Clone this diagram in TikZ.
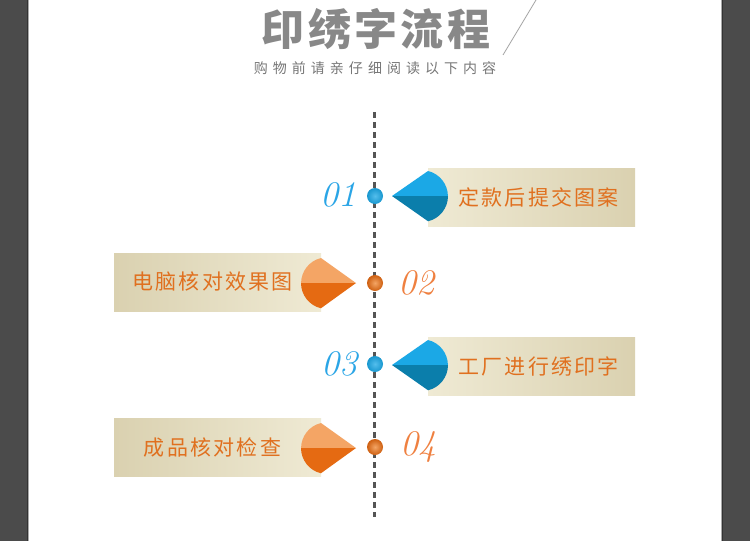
\documentclass[tikz,border=0pt]{standalone}
\usepackage{fontspec}
\newfontfamily\cjktitle[LetterSpace=8]{Noto Sans CJK SC}
\newfontfamily\cjksub[LetterSpace=36]{Noto Sans CJK SC}
\newfontfamily\cjkstep[LetterSpace=11]{Noto Sans CJK SC}

\definecolor{sidegray}{HTML}{4B4B4B}
\definecolor{edgedark}{HTML}{333333}
\definecolor{edgelight}{HTML}{AAAAAA}
\definecolor{titlegray}{HTML}{888888}
\definecolor{subgray}{HTML}{777777}
\definecolor{linegray}{HTML}{555555}
\definecolor{bluelight}{HTML}{1BA8E6}
\definecolor{bluedark}{HTML}{0B7EAB}
\definecolor{orglight}{HTML}{F4A565}
\definecolor{orgdark}{HTML}{E56A12}
\definecolor{txtorange}{HTML}{E0701F}
\definecolor{numblue}{HTML}{2AA5E6}
\definecolor{numorange}{HTML}{EF8040}
\definecolor{banlight}{HTML}{EFEAD4}
\definecolor{bandark}{HTML}{DAD1B0}

\begin{document}
\begin{tikzpicture}[x=1pt,y=-1pt,
    banner/.style={inner sep=0pt, minimum width=207pt, minimum height=58pt},
    steptext/.style={inner sep=0pt, text=txtorange,
      font=\cjkstep\fontsize{21}{21}\selectfont},
    dot/.style={circle, inner sep=0pt, minimum size=16pt},
    bluedot/.style={dot, inner color=bluelight!75!white, outer color=bluelight!90!black},
    orgdot/.style={dot, inner color=orglight, outer color=orgdark!90!black},
    num/.style={inner sep=0pt, font=\fontsize{36}{36}\selectfont\itshape}]
  \useasboundingbox (0,0) rectangle (750,541);

  %—————— 背景与两侧边框 ——————————————————————————————————————————
  \fill[white] (0,0) rectangle (750,541);
  \fill[sidegray] (0,0) rectangle (27,541);
  \fill[sidegray] (723,0) rectangle (750,541);
  \draw[edgedark, line width=1pt] (27.5,0) -- (27.5,541);
  \draw[edgelight, line width=1pt] (28.5,0) -- (28.5,541);
  \draw[edgelight, line width=1pt] (721.5,0) -- (721.5,541);
  \draw[edgedark, line width=1pt] (722.5,0) -- (722.5,541);

  %—————— 标题 ————————————————————————————————————————————————————
  \node[text=titlegray, font=\cjktitle\bfseries\fontsize{43}{43}\selectfont]
    (title) at (376,29) {印绣字流程};
  \node[text=subgray, font=\cjksub\fontsize{14}{14}\selectfont]
    (subtitle) at (375,68) {购物前请亲仔细阅读以下内容};
  \draw[gray!70, line width=0.8pt] (536,0) -- (503,55);

  %—————— 中间虚线 ————————————————————————————————————————————————
  \coordinate (top) at (374,112);
  \coordinate (bot) at (374,517);
  \draw[linegray, line width=3pt, dash pattern=on 6pt off 4pt] (top) -- (bot);

  %—————— 01 右侧 蓝色 ——————————————————————————————————————————————
  \node[banner, left color=banlight, right color=bandark] (b1) at (531.5,197) {};
  \node[steptext] (t1) at ([xshift=7pt]b1.center) {定款后提交图案};
  \fill[bluelight] (392,196) -- (428,171) arc[start angle=-76.5, end angle=0, radius=26] -- cycle;
  \fill[bluedark] (392,196) -- (448,196) arc[start angle=0, end angle=76.5, radius=26] -- cycle;
  \node[bluedot] (d1) at (375,196) {};
  \node[num, text=numblue] (n1) at (338,195) {01};

  %—————— 02 左侧 橙色 ——————————————————————————————————————————————
  \node[banner, left color=bandark, right color=banlight] (b2) at (217.5,282) {};
  \node[steptext] (t2) at ([xshift=-5pt]b2.center) {电脑核对效果图};
  \fill[orglight] (356,283) -- (321,258) arc[start angle=-103.5, end angle=-180, radius=26] -- cycle;
  \fill[orgdark] (356,283) -- (301,283) arc[start angle=180, end angle=103.5, radius=26] -- cycle;
  \node[orgdot] (d2) at (375,283) {};
  \node[num, text=numorange] (n2) at (416,283) {02};

  %—————— 03 右侧 蓝色 ——————————————————————————————————————————————
  \node[banner, left color=banlight, right color=bandark] (b3) at (531.5,366) {};
  \node[steptext] (t3) at ([xshift=7pt]b3.center) {工厂进行绣印字};
  \fill[bluelight] (392,365) -- (428,340) arc[start angle=-76.5, end angle=0, radius=26] -- cycle;
  \fill[bluedark] (392,365) -- (448,365) arc[start angle=0, end angle=76.5, radius=26] -- cycle;
  \node[bluedot] (d3) at (375,364) {};
  \node[num, text=numblue] (n3) at (339,364) {03};

  %—————— 04 左侧 橙色 ——————————————————————————————————————————————
  \node[banner, left color=bandark, right color=banlight] (b4) at (217.5,447.5) {};
  \node[steptext] (t4) at ([xshift=-5pt]b4.center) {成品核对检查};
  \fill[orglight] (356,448) -- (321,423) arc[start angle=-103.5, end angle=-180, radius=26] -- cycle;
  \fill[orgdark] (356,448) -- (301,448) arc[start angle=180, end angle=103.5, radius=26] -- cycle;
  \node[orgdot] (d4) at (375,447) {};
  \node[num, text=numorange] (n4) at (418,447) {04};
\end{tikzpicture}
\end{document}
